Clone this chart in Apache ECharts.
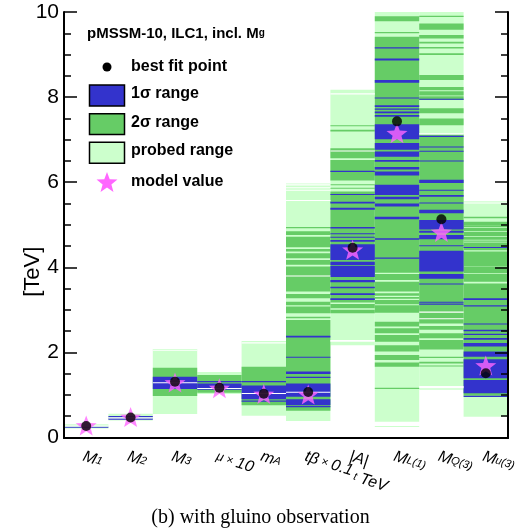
<!DOCTYPE html>
<html>
<head>
<meta charset="utf-8">
<script src="https://cdn.jsdelivr.net/npm/echarts@6/dist/echarts.min.js"></script>
<style>
  html, body { margin: 0; padding: 0; background: #ffffff; }
  #chart { width: 521px; height: 531px; }
</style>
</head>
<body>
<div id="chart"></div>
<script>
// Fitted parameters (one column each)
const parameters = ['M1', 'M2', 'M3', 'mu_x10', 'mA', 'tanb_x0.1', 'At', 'ML1', 'MQ3', 'Mu3'];

// Axis labels written as rich text
const parameterLabels = [
  '{i|M}{s|1}',
  '{i|M}{s|2}',
  '{i|M}{s|3}',
  '{g|\u03bc} {x|\u00d7} {i|10}',
  '{i|m}{s|A}',
  '{i|t\u03b2} {x|\u00d7} {i|0.1}',
  '{i||A|}\n{t|t}{n|TeV}',
  '{i|M}{s|L(1)}',
  '{i|M}{s|Q(3)}',
  '{i|M}{s|u(3)}'
];

// Best fit point and true model value, TeV
const bestFit    = [0.27, 0.47, 1.31, 1.17, 1.03, 1.07, 4.46, 7.43, 5.13, 1.51];
const modelValue = [0.28, 0.48, 1.29, 1.16, 1.02, 1.01, 4.41, 7.15, 4.83, 1.69];

// Ranges per column: [column, low, high] in TeV
const probedBands = [
  [0, 0.21, 0.31], [1, 0.40, 0.56], [2, 0.55, 2.08], [3, 1.02, 1.54], [4, 0.51, 2.27],
  [5, 0.39, 5.97], [6, 2.17, 8.17], [7, 0.37, 10], [7, 0.25, 0.27], [8, 1.12, 10], [9, 0.49, 5.55]
];

const sigma2Bands = [
  [2, 0.975, 1.64],
  [3, 1.05, 1.47],
  [4, 0.76, 1.66],
  [5, 4.92, 4.95], [5, 4.76, 4.85], [5, 4.47, 4.72], [5, 4.37, 4.43], [5, 4.21, 4.33],
  [5, 4.06, 4.17], [5, 3.43, 4.02], [5, 3.27, 3.37], [5, 3.11, 3.19], [5, 2.92, 3.08],
  [5, 2.80, 2.84], [5, 0.63, 2.76],
  [6, 7.32, 7.34], [6, 7.19, 7.23], [6, 6.56, 6.80], [6, 6.04, 6.52], [6, 5.93, 5.95],
  [6, 5.85, 5.87], [6, 3.17, 5.78], [6, 3.04, 3.14], [6, 2.92, 3.00],
  [7, 9.78, 9.90], [7, 9.50, 9.53], [7, 3.87, 9.42], [7, 3.70, 3.84], [7, 3.43, 3.66],
  [7, 3.33, 3.39], [7, 3.26, 3.30], [7, 3.13, 3.23], [7, 2.93, 3.11], [7, 2.61, 2.72],
  [7, 2.45, 2.57], [7, 2.25, 2.41], [7, 2.02, 2.17], [7, 1.82, 1.94], [7, 1.66, 1.76],
  [7, 1.14, 1.17],
  [8, 9.88, 9.91], [8, 9.58, 9.73], [8, 9.38, 9.46], [8, 9.26, 9.30], [8, 9.14, 9.18],
  [8, 8.99, 9.03], [8, 8.40, 8.52], [8, 8.16, 8.24], [8, 8.04, 8.14], [8, 7.93, 8.02],
  [8, 7.62, 7.74], [8, 7.34, 7.50], [8, 2.68, 7.12], [8, 2.53, 2.62], [8, 2.33, 2.45],
  [8, 2.07, 2.29], [8, 1.87, 1.90], [8, 1.74, 1.78], [8, 1.67, 1.69],
  [9, 5.15, 5.19], [9, 4.99, 5.07], [9, 4.95, 4.99], [9, 4.85, 4.93], [9, 4.73, 4.83],
  [9, 4.65, 4.71], [9, 4.60, 4.63], [9, 4.40, 4.58], [9, 4.02, 4.37], [9, 3.86, 4.01],
  [9, 3.66, 3.84], [9, 0.98, 3.62]
];

const sigma1Bands = [
  [0, 0.235, 0.255],
  [1, 0.475, 0.505], [1, 0.42, 0.455],
  [2, 1.14, 1.43],
  [3, 1.12, 1.27], [3, 1.30, 1.33],
  [4, 0.90, 1.22], [4, 0.84, 0.87], [4, 1.30, 1.33],
  [5, 2.35, 2.39], [5, 1.875, 1.90], [5, 1.49, 1.55], [5, 1.40, 1.43], [5, 0.96, 1.27],
  [5, 0.76, 0.90], [5, 0.71, 0.74],
  [6, 6.24, 6.27], [6, 5.70, 5.72], [6, 5.50, 5.54], [6, 5.35, 5.40], [6, 4.91, 4.95],
  [6, 4.78, 4.80], [6, 4.70, 4.72], [6, 4.60, 4.64], [6, 4.17, 4.54], [6, 4.05, 4.13],
  [6, 3.77, 4.03], [6, 3.65, 3.70], [6, 3.51, 3.54], [6, 3.35, 3.39], [6, 3.23, 3.27],
  [7, 9.14, 9.17], [7, 8.86, 8.91], [7, 8.34, 8.40], [7, 7.97, 7.99], [7, 7.77, 7.81],
  [7, 7.70, 7.73], [7, 7.62, 7.66], [7, 7.54, 7.58], [7, 7.01, 7.36], [7, 6.76, 6.92],
  [7, 6.60, 6.72], [7, 6.48, 6.52], [7, 6.30, 6.36], [7, 6.16, 6.25], [7, 5.70, 5.94],
  [7, 5.60, 5.66], [7, 5.43, 5.50], [7, 5.13, 5.19], [7, 4.65, 4.68], [7, 4.20, 4.23],
  [8, 7.94, 7.96], [8, 7.06, 7.09], [8, 6.82, 6.84], [8, 6.72, 6.74], [8, 6.49, 6.51],
  [8, 5.98, 6.06], [8, 5.80, 5.82], [8, 5.66, 5.70], [8, 5.50, 5.52], [8, 5.27, 5.35],
  [8, 4.89, 5.11], [8, 4.81, 4.86], [8, 4.66, 4.76], [8, 4.50, 4.52], [8, 3.90, 4.39],
  [8, 3.73, 3.84], [8, 3.60, 3.62], [8, 3.17, 3.19], [8, 3.12, 3.15],
  [9, 4.46, 4.48], [9, 3.23, 3.27], [9, 3.08, 3.11], [9, 2.66, 2.68], [9, 2.50, 2.53],
  [9, 2.41, 2.44], [9, 2.30, 2.34], [9, 2.14, 2.22], [9, 1.90, 2.02], [9, 1.39, 1.84],
  [9, 1.04, 1.35], [9, 0.95, 0.98]
];

// Empty slices inside the scanned ranges
const emptyBands = [
  [0, 0.265, 0.28], [1, 0.455, 0.468], [2, 2.04, 2.06], [2, 1.28, 1.30], [3, 1.15, 1.165],
  [4, 2.21, 2.24], [4, 1.03, 1.045],
  [5, 5.92, 5.95], [5, 5.86, 5.88], [5, 5.80, 5.82], [5, 5.56, 5.58], [5, 3.79, 3.81], [5, 1.05, 1.075],
  [6, 8.06, 8.09], [6, 6.73, 6.745], [6, 2.25, 2.29],
  [8, 7.12, 7.15], [8, 2.93, 2.96], [8, 2.78, 2.80], [8, 1.16, 1.21],
  [9, 5.50, 5.52]
];

const LIGHT = '#ccffcc', GREEN = '#66cc66', BLUE = '#3333cc', PINK = '#ff66ff';
const SANS = 'Liberation Sans, Arial, Helvetica, sans-serif';

// Five-pointed star outline
function starPoints(cx, cy, R) {
  const pts = [];
  for (let k = 0; k < 10; k++) {
    const r = k % 2 ? R * 0.42 : R;
    const a = Math.PI * k / 5;
    pts.push([cx + r * Math.sin(a), cy - r * Math.cos(a)]);
  }
  return pts;
}
const starSymbol = 'path://' + starPoints(0, 0, 1)
  .map((p, k) => (k ? 'L' : 'M') + p[0].toFixed(4) + ' ' + p[1].toFixed(4)).join(' ') + ' Z';

// Full-width horizontal slab for one column
function bandRenderer(color) {
  return function (params, api) {
    const col = api.value(0);
    const top = api.coord([col, api.value(2)]);
    const bottom = api.coord([col, api.value(1)]);
    const w = api.size([1, 0])[0];
    return {
      type: 'rect',
      shape: { x: top[0] - w / 2, y: top[1], width: w, height: Math.max(bottom[1] - top[1], 1) },
      style: { fill: color }
    };
  };
}
function bandSeries(name, data, color, z) {
  return {
    type: 'custom', name: name, data: data, z: z, silent: true, clip: true,
    encode: { x: 0, y: [1, 2] },
    renderItem: bandRenderer(color)
  };
}

const axisLineStyle = { color: '#000', width: 2 };
const labelRich = {
  i: { fontFamily: SANS, fontStyle: 'italic', fontSize: 16, lineHeight: 18, color: '#000' },
  n: { fontFamily: SANS, fontStyle: 'italic', fontSize: 16, lineHeight: 18, color: '#000' },
  s: { fontFamily: SANS, fontStyle: 'italic', fontSize: 11, lineHeight: 3, color: '#000' },
  t: { fontFamily: SANS, fontStyle: 'italic', fontSize: 11, lineHeight: 18, color: '#000', padding: [0, 4, 0, 10] },
  g: { fontFamily: SANS, fontStyle: 'italic', fontSize: 13, lineHeight: 18, color: '#000' },
  x: { fontFamily: SANS, fontSize: 12, lineHeight: 18, color: '#000' }
};

const chart = echarts.init(document.getElementById('chart'), null, { renderer: 'canvas' });

chart.setOption({
  animation: false,
  backgroundColor: '#ffffff',
  grid: { left: 64, right: 13, top: 12, bottom: 93.5, containLabel: false },
  title: {
    text: '(b) with gluino observation',
    left: 'center', top: 503,
    textStyle: { fontFamily: 'Liberation Serif, Times New Roman, serif', fontWeight: 'normal', fontSize: 20, color: '#000' }
  },
  xAxis: [
    {
      type: 'category', data: parameters, position: 'bottom', boundaryGap: true, z: 20,
      axisLine: { lineStyle: axisLineStyle },
      axisTick: { inside: true, length: 10, lineStyle: { color: '#000', width: 1.5 } },
      axisLabel: {
        interval: 0, rotate: -18, margin: 10, align: 'left', verticalAlign: 'top',
        formatter: (v, i) => parameterLabels[i], rich: labelRich
      },
      splitLine: { show: false }
    },
    {
      type: 'category', data: parameters, position: 'top', boundaryGap: true, z: 20,
      axisLine: { lineStyle: axisLineStyle },
      axisTick: { inside: true, length: 12, lineStyle: { color: '#000', width: 1.5 } },
      axisLabel: { show: false },
      splitLine: { show: false }
    }
  ],
  yAxis: [
    {
      type: 'value', min: 0, max: 10, interval: 2, position: 'left', z: 20,
      name: '[TeV]', nameLocation: 'middle', nameGap: 20, nameRotate: 90, nameMoveOverlap: false,
      nameTextStyle: { fontFamily: SANS, fontSize: 22, color: '#000', padding: [0, 94, 0, 0] },
      axisLine: { show: true, lineStyle: axisLineStyle },
      axisTick: { show: true, inside: true, length: 13, lineStyle: { color: '#000', width: 1.5 } },
      minorTick: { show: true, splitNumber: 4, length: 7, lineStyle: { color: '#000', width: 1.5 } },
      axisLabel: { fontFamily: SANS, fontSize: 21, color: '#000', margin: 5 },
      splitLine: { show: false }
    },
    {
      type: 'value', min: 0, max: 10, interval: 2, position: 'right', z: 20,
      axisLine: { show: true, lineStyle: axisLineStyle },
      axisTick: { show: true, inside: true, length: 13, lineStyle: { color: '#000', width: 1.5 } },
      minorTick: { show: true, splitNumber: 4, length: 7, lineStyle: { color: '#000', width: 1.5 } },
      axisLabel: { show: false },
      splitLine: { show: false }
    }
  ],
  series: [
    bandSeries('probed range', probedBands, LIGHT, 1),
    bandSeries('2\u03c3 range', sigma2Bands, GREEN, 2),
    bandSeries('1\u03c3 range', sigma1Bands, BLUE, 3),
    bandSeries('empty', emptyBands, '#ffffff', 4),
    {
      type: 'scatter', name: 'model value', z: 5,
      data: modelValue.map((v, i) => [i, v]),
      symbol: starSymbol, symbolSize: 21, symbolKeepAspect: true,
      itemStyle: { color: PINK }
    },
    {
      type: 'scatter', name: 'best fit point', z: 6,
      data: bestFit.map((v, i) => [i, v]),
      symbol: 'circle', symbolSize: 10,
      itemStyle: { color: '#000' }
    }
  ],
  graphic: [
    {
      type: 'text', x: 87, y: 33.5, z: 10,
      style: {
        text: '{b|pMSSM-10, ILC1, incl. M}{s|g}',
        verticalAlign: 'middle',
        rich: {
          b: { fontFamily: SANS, fontWeight: 'bold', fontSize: 15, lineHeight: 16, fill: '#000' },
          s: { fontFamily: SANS, fontWeight: 'bold', fontSize: 10, lineHeight: 4, fill: '#000' }
        }
      }
    },
    { type: 'circle', z: 10, shape: { cx: 107, cy: 67, r: 4.5 }, style: { fill: '#000' } },
    { type: 'rect', z: 10, shape: { x: 89.5, y: 85, width: 35, height: 21 }, style: { fill: BLUE, stroke: '#000', lineWidth: 1.5 } },
    { type: 'rect', z: 10, shape: { x: 89.5, y: 113.7, width: 35, height: 20.7 }, style: { fill: GREEN, stroke: '#000', lineWidth: 1.5 } },
    { type: 'rect', z: 10, shape: { x: 89.5, y: 142.3, width: 35, height: 21 }, style: { fill: LIGHT, stroke: '#000', lineWidth: 1.5 } },
    { type: 'polygon', z: 10, shape: { points: starPoints(107, 183, 11) }, style: { fill: PINK } },
    { type: 'text', z: 10, x: 131, y: 67, style: { text: 'best fit point', font: 'bold 16px ' + SANS, fill: '#000', verticalAlign: 'middle' } },
    { type: 'text', z: 10, x: 131, y: 93.5, style: { text: '1\u03c3 range', font: 'bold 16px ' + SANS, fill: '#000', verticalAlign: 'middle' } },
    { type: 'text', z: 10, x: 131, y: 122.5, style: { text: '2\u03c3 range', font: 'bold 16px ' + SANS, fill: '#000', verticalAlign: 'middle' } },
    { type: 'text', z: 10, x: 131, y: 151, style: { text: 'probed range', font: 'bold 16px ' + SANS, fill: '#000', verticalAlign: 'middle' } },
    { type: 'text', z: 10, x: 131, y: 182, style: { text: 'model value', font: 'bold 16px ' + SANS, fill: '#000', verticalAlign: 'middle' } }
  ]
});
</script>
</body>
</html>
